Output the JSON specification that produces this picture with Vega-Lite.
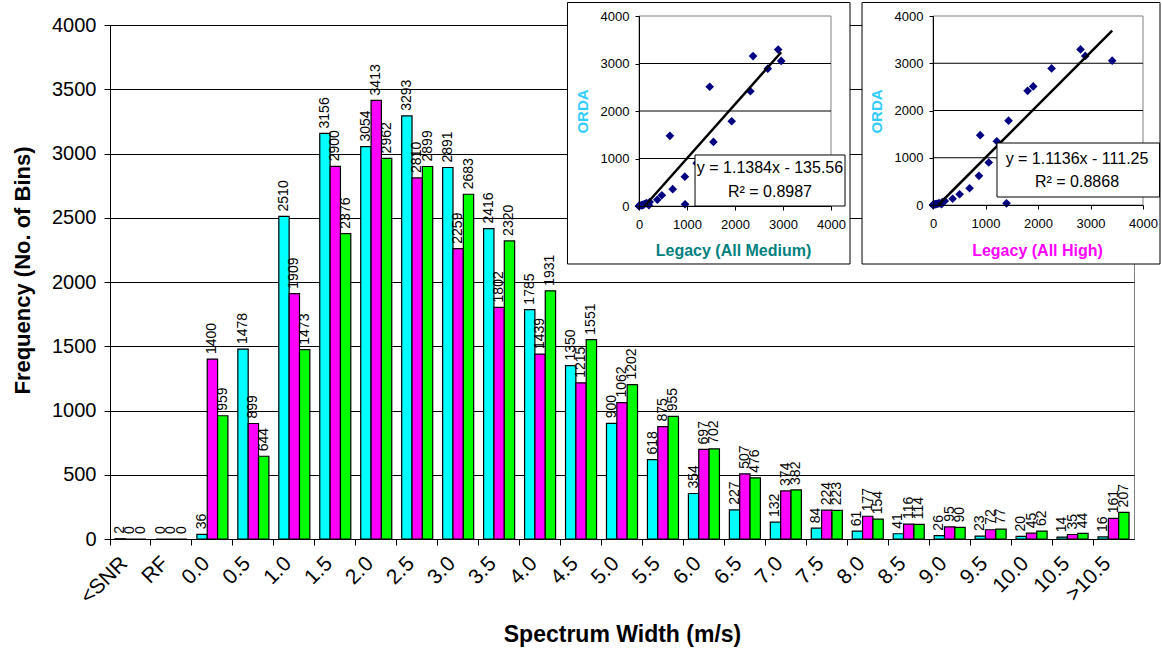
{
  "$schema": "https://vega.github.io/schema/vega-lite/v6.json",
  "width": 1024,
  "height": 514,
  "autosize": "none",
  "padding": {"left": 110, "top": 25, "right": 28, "bottom": 113},
  "background": "white",
  "config": {
    "font": "Liberation Sans",
    "view": {"stroke": "#808080", "strokeWidth": 1},
    "axis": {"labelFont": "Liberation Sans", "titleFont": "Liberation Sans", "labelColor": "black", "titleColor": "black", "domainColor": "black", "tickColor": "black"}
  },
  "datasets": {
    "bins": [
      {"cat": "<SNR", "ORDA": 2, "High": 0, "Medium": 0},
      {"cat": "RF", "ORDA": 0, "High": 0, "Medium": 0},
      {"cat": "0.0", "ORDA": 36, "High": 1400, "Medium": 959},
      {"cat": "0.5", "ORDA": 1478, "High": 899, "Medium": 644},
      {"cat": "1.0", "ORDA": 2510, "High": 1909, "Medium": 1473},
      {"cat": "1.5", "ORDA": 3156, "High": 2900, "Medium": 2376},
      {"cat": "2.0", "ORDA": 3054, "High": 3413, "Medium": 2962},
      {"cat": "2.5", "ORDA": 3293, "High": 2810, "Medium": 2899},
      {"cat": "3.0", "ORDA": 2891, "High": 2259, "Medium": 2683},
      {"cat": "3.5", "ORDA": 2416, "High": 1802, "Medium": 2320},
      {"cat": "4.0", "ORDA": 1785, "High": 1439, "Medium": 1931},
      {"cat": "4.5", "ORDA": 1350, "High": 1215, "Medium": 1551},
      {"cat": "5.0", "ORDA": 900, "High": 1062, "Medium": 1202},
      {"cat": "5.5", "ORDA": 618, "High": 875, "Medium": 955},
      {"cat": "6.0", "ORDA": 354, "High": 697, "Medium": 702},
      {"cat": "6.5", "ORDA": 227, "High": 507, "Medium": 476},
      {"cat": "7.0", "ORDA": 132, "High": 374, "Medium": 382},
      {"cat": "7.5", "ORDA": 84, "High": 224, "Medium": 223},
      {"cat": "8.0", "ORDA": 61, "High": 177, "Medium": 154},
      {"cat": "8.5", "ORDA": 41, "High": 116, "Medium": 114},
      {"cat": "9.0", "ORDA": 26, "High": 95, "Medium": 90},
      {"cat": "9.5", "ORDA": 23, "High": 72, "Medium": 77},
      {"cat": "10.0", "ORDA": 20, "High": 45, "Medium": 62},
      {"cat": "10.5", "ORDA": 14, "High": 35, "Medium": 44},
      {"cat": ">10.5", "ORDA": 16, "High": 161, "Medium": 207}
    ],
    "one": [{}],
    "grid": [{"g": 1000}, {"g": 2000}, {"g": 3000}]
  },
  "layer": [
    {
      "data": {"name": "bins"},
      "transform": [{"fold": ["ORDA", "High", "Medium"], "as": ["series", "count"]}],
      "encoding": {
        "x": {
          "field": "cat", "type": "nominal",
          "sort": ["<SNR", "RF", "0.0", "0.5", "1.0", "1.5", "2.0", "2.5", "3.0", "3.5", "4.0", "4.5", "5.0", "5.5", "6.0", "6.5", "7.0", "7.5", "8.0", "8.5", "9.0", "9.5", "10.0", "10.5", ">10.5"],
          "scale": {"paddingInner": 0, "paddingOuter": 0},
          "axis": {
            "bandPosition": 0, "labelAngle": -45, "labelAlign": "right", "labelBaseline": "middle",
            "labelOffset": -6, "labelPadding": 15, "labelFontSize": 21, "labelOverlap": false, "labelFlush": false,
            "tickSize": 6, "grid": false,
            "title": "Spectrum Width (m/s)", "titleFontSize": 23, "titleFontWeight": "bold",
            "titleY": 95, "titleBaseline": "middle"
          }
        },
        "xOffset": {"field": "series", "type": "nominal", "scale": {"domain": ["ORDA", "High", "Medium"], "paddingInner": 0, "paddingOuter": 0.48}},
        "y": {
          "field": "count", "type": "quantitative",
          "scale": {"domain": [0, 4000], "nice": false},
          "axis": {
            "values": [0, 500, 1000, 1500, 2000, 2500, 3000, 3500, 4000], "format": "d",
            "grid": true, "gridColor": "black", "gridWidth": 1, "gridOpacity": 1,
            "tickSize": 6, "labelFontSize": 20, "labelPadding": 8,
            "title": "Frequency (No. of Bins)", "titleFontSize": 22, "titleFontWeight": "bold",
            "titleX": -88, "titleY": 245, "titleBaseline": "middle"
          }
        }
      },
      "layer": [
        {
          "mark": {"type": "bar", "stroke": "black", "strokeWidth": 1.2},
          "encoding": {
            "color": {"field": "series", "type": "nominal", "scale": {"domain": ["ORDA", "High", "Medium"], "range": ["#00FFFF", "#FF00FF", "#00FF00"]}, "legend": null}
          }
        },
        {
          "mark": {"type": "text", "angle": 270, "align": "left", "baseline": "middle", "dx": 5, "fontSize": 14, "color": "black"},
          "encoding": {"text": {"field": "count", "type": "quantitative", "format": "d"}}
        }
      ]
    },
    {
      "layer": [
        {
          "data": {"name": "one"},
          "mark": {"type": "rect", "fill": "white", "stroke": "black", "strokeWidth": 1},
          "encoding": {
            "x": {"datum": -1490, "type": "quantitative", "scale": {"domain": [0, 4000], "range": [529, 721], "nice": false, "zero": false},
              "axis": {"orient": "bottom", "offset": -333, "zindex": 1, "values": [0, 1000, 2000, 3000, 4000], "format": "d", "grid": false,
                "tickSize": 4, "labelFontSize": 13, "labelPadding": 8, "labelFlush": false, "labelOverlap": false,
                "title": "Legacy (All Medium)", "titleColor": "#008080", "titleFontSize": 16, "titleFontWeight": "bold",
                "titleX": 623, "titleY": 44, "titleBaseline": "middle", "titleAlign": "center"}},
            "x2": {"datum": 4396},
            "y": {"datum": -1221, "type": "quantitative", "scale": {"domain": [0, 4000], "range": [181, -9], "nice": false, "zero": false},
              "axis": {"orient": "left", "offset": -529, "zindex": 1, "values": [0, 1000, 2000, 3000, 4000], "format": "d", "grid": false,
                "tickSize": 4, "labelFontSize": 13, "labelPadding": 6, "labelFlush": false, "labelOverlap": false,
                "title": "ORDA", "titleColor": "#33CCFF", "titleFontSize": 15, "titleFontWeight": "bold",
                "titleX": -57, "titleY": 86, "titleBaseline": "middle", "titleAlign": "center", "titleAngle": -90}},
            "y2": {"datum": 4284}
          }
        },
        {
          "data": {"name": "one"},
          "mark": {"type": "rect", "fill": "transparent", "stroke": "#808080", "strokeWidth": 1},
          "encoding": {
            "x": {"datum": 0, "type": "quantitative"}, "x2": {"datum": 4000},
            "y": {"datum": 0, "type": "quantitative"}, "y2": {"datum": 4000}
          }
        },
        {
          "data": {"name": "grid"},
          "mark": {"type": "rule", "color": "black", "strokeWidth": 1},
          "encoding": {
            "x": {"datum": 0, "type": "quantitative"}, "x2": {"datum": 4000},
            "y": {"field": "g", "type": "quantitative"}
          }
        },
        {
          "data": {"name": "bins"},
          "mark": {"type": "point", "shape": "diamond", "filled": true, "color": "#000080", "size": 75, "opacity": 1},
          "encoding": {
            "x": {"field": "Medium", "type": "quantitative"},
            "y": {"field": "ORDA", "type": "quantitative"}
          }
        },
        {
          "data": {"name": "bins"},
          "transform": [{"regression": "ORDA", "on": "Medium", "extent": [119, 2962]}],
          "mark": {"type": "line", "color": "black", "strokeWidth": 2.5},
          "encoding": {
            "x": {"field": "Medium", "type": "quantitative"},
            "y": {"field": "ORDA", "type": "quantitative"}
          }
        },
        {
          "data": {"name": "one"},
          "mark": {"type": "rect", "fill": "white", "stroke": "black", "strokeWidth": 1},
          "encoding": {
            "x": {"datum": 1167, "type": "quantitative"}, "x2": {"datum": 4292},
            "y": {"datum": 0, "type": "quantitative"}, "y2": {"datum": 1074}
          }
        },
        {
          "data": {"name": "one"},
          "mark": {"type": "text", "fontSize": 16, "align": "center", "baseline": "middle", "color": "black"},
          "encoding": {
            "x": {"datum": 2729, "type": "quantitative"},
            "y": {"datum": 800, "type": "quantitative"},
            "text": {"value": "y = 1.1384x - 135.56"}
          }
        },
        {
          "data": {"name": "one"},
          "mark": {"type": "text", "fontSize": 16, "align": "center", "baseline": "middle", "color": "black"},
          "encoding": {
            "x": {"datum": 2729, "type": "quantitative"},
            "y": {"datum": 295, "type": "quantitative"},
            "text": {"value": "R² = 0.8987"}
          }
        }
      ]
    },
    {
      "layer": [
        {
          "data": {"name": "one"},
          "mark": {"type": "rect", "fill": "white", "stroke": "black", "strokeWidth": 1},
          "encoding": {
            "x": {"datum": -1352, "type": "quantitative", "scale": {"domain": [0, 4000], "range": [823, 1033], "nice": false, "zero": false},
              "axis": {"orient": "bottom", "offset": -334, "zindex": 1, "values": [0, 1000, 2000, 3000, 4000], "format": "d", "grid": false,
                "tickSize": 4, "labelFontSize": 13, "labelPadding": 8, "labelFlush": false, "labelOverlap": false,
                "title": "Legacy (All High)", "titleColor": "#FF00FF", "titleFontSize": 16, "titleFontWeight": "bold",
                "titleX": 927, "titleY": 45, "titleBaseline": "middle", "titleAlign": "center"}},
            "x2": {"datum": 4324},
            "y": {"datum": -1249, "type": "quantitative", "scale": {"domain": [0, 4000], "range": [180, -9], "nice": false, "zero": false},
              "axis": {"orient": "left", "offset": -823, "zindex": 1, "values": [0, 1000, 2000, 3000, 4000], "format": "d", "grid": false,
                "tickSize": 4, "labelFontSize": 13, "labelPadding": 6, "labelFlush": false, "labelOverlap": false,
                "title": "ORDA", "titleColor": "#33CCFF", "titleFontSize": 15, "titleFontWeight": "bold",
                "titleX": -57, "titleY": 86, "titleBaseline": "middle", "titleAlign": "center", "titleAngle": -90}},
            "y2": {"datum": 4286}
          }
        },
        {
          "data": {"name": "one"},
          "mark": {"type": "rect", "fill": "transparent", "stroke": "#808080", "strokeWidth": 1},
          "encoding": {
            "x": {"datum": 0, "type": "quantitative"}, "x2": {"datum": 4000},
            "y": {"datum": 0, "type": "quantitative"}, "y2": {"datum": 4000}
          }
        },
        {
          "data": {"name": "grid"},
          "mark": {"type": "rule", "color": "black", "strokeWidth": 1},
          "encoding": {
            "x": {"datum": 0, "type": "quantitative"}, "x2": {"datum": 4000},
            "y": {"field": "g", "type": "quantitative"}
          }
        },
        {
          "data": {"name": "bins"},
          "mark": {"type": "point", "shape": "diamond", "filled": true, "color": "#000080", "size": 75, "opacity": 1},
          "encoding": {
            "x": {"field": "High", "type": "quantitative"},
            "y": {"field": "ORDA", "type": "quantitative"}
          }
        },
        {
          "data": {"name": "bins"},
          "transform": [{"regression": "ORDA", "on": "High", "extent": [100, 3413]}],
          "mark": {"type": "line", "color": "black", "strokeWidth": 2.5},
          "encoding": {
            "x": {"field": "High", "type": "quantitative"},
            "y": {"field": "ORDA", "type": "quantitative"}
          }
        },
        {
          "data": {"name": "one"},
          "mark": {"type": "rect", "fill": "white", "stroke": "black", "strokeWidth": 1},
          "encoding": {
            "x": {"datum": 1219, "type": "quantitative"}, "x2": {"datum": 4315},
            "y": {"datum": 169, "type": "quantitative"}, "y2": {"datum": 1312}
          }
        },
        {
          "data": {"name": "one"},
          "mark": {"type": "text", "fontSize": 16, "align": "center", "baseline": "middle", "color": "black"},
          "encoding": {
            "x": {"datum": 2743, "type": "quantitative"},
            "y": {"datum": 974, "type": "quantitative"},
            "text": {"value": "y = 1.1136x - 111.25"}
          }
        },
        {
          "data": {"name": "one"},
          "mark": {"type": "text", "fontSize": 16, "align": "center", "baseline": "middle", "color": "black"},
          "encoding": {
            "x": {"datum": 2743, "type": "quantitative"},
            "y": {"datum": 487, "type": "quantitative"},
            "text": {"value": "R² = 0.8868"}
          }
        }
      ]
    }
  ],
  "resolve": {
    "scale": {"x": "independent", "y": "independent"},
    "axis": {"x": "independent", "y": "independent"}
  }
}
